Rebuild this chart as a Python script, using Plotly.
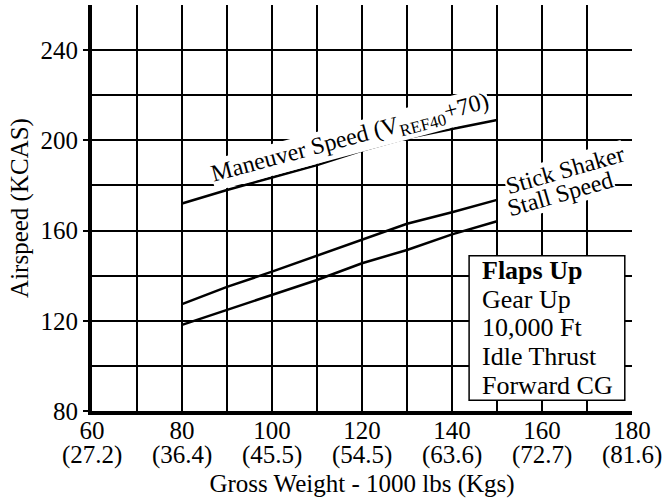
import plotly.graph_objects as go

# gross weight (1000 lbs) and airspeeds (KCAS)
weight = [80, 90, 100, 110, 120, 130, 140, 150]
maneuver = [172, 178, 183.5, 189, 195.5, 201, 205, 209]
shaker = [127.4, 135, 141.8, 148.9, 156, 163, 168.1, 173.6]
stall = [118.2, 124.9, 131.4, 138.1, 145.5, 151.4, 158.3, 164.1]

x_ticks = [60, 80, 100, 120, 140, 160, 180]
x_kgs = ["(27.2)", "(36.4)", "(45.5)", "(54.5)", "(63.6)", "(72.7)", "(81.6)"]
y_ticks = [80, 120, 160, 200, 240]

box_lines = ["<b>Flaps Up</b>", "Gear Up", "10,000 Ft", "Idle Thrust", "Forward CG"]

FONT = "Liberation Serif"

fig = go.Figure()
for ys in (maneuver, shaker, stall):
    fig.add_trace(go.Scatter(x=weight, y=ys, mode="lines",
                             line=dict(color="black", width=2.5),
                             showlegend=False, hoverinfo="skip"))

fig.update_xaxes(range=[60, 180], tickvals=x_ticks, ticktext=[str(v) for v in x_ticks],
                 showgrid=True, gridcolor="black", gridwidth=1.5,
                 minor=dict(dtick=10, showgrid=True, gridcolor="black", gridwidth=1.5),
                 showline=True, linecolor="black", linewidth=4,
                 ticks="", ticklabelstandoff=-6, automargin=False,
                 zeroline=False, tickfont=dict(size=25),
                 title=dict(text="Gross Weight - 1000 lbs (Kgs)", font=dict(size=25), standoff=32))
fig.update_yaxes(range=[80, 260], tickvals=y_ticks,
                 showgrid=True, gridcolor="black", gridwidth=1.5,
                 minor=dict(dtick=20, showgrid=True, gridcolor="black", gridwidth=1.5),
                 showline=True, linecolor="black", linewidth=4,
                 ticks="outside", ticklen=5, tickcolor="black", tickwidth=1.5,
                 automargin=False,
                 zeroline=False, tickfont=dict(size=25),
                 title=dict(text="Airspeed (KCAS)", font=dict(size=25), standoff=6))

# kg row under the weight ticks
for xv, kg in zip(x_ticks, x_kgs):
    fig.add_annotation(x=xv, y=0, xref="x", yref="paper", text=kg, showarrow=False,
                       yanchor="middle", yshift=-44, font=dict(size=25))

# curve labels
fig.add_annotation(x=117.3, y=200.8, text="Maneuver Speed (V<sub>REF40</sub>+70)",
                   showarrow=False, textangle=-15, bgcolor="white", borderpad=0,
                   font=dict(size=24))
fig.add_annotation(x=165.1, y=187, text="Stick Shaker", showarrow=False,
                   textangle=-16, bgcolor="white", borderpad=0, font=dict(size=24))
fig.add_annotation(x=164, y=176, text="Stall Speed", showarrow=False,
                   textangle=-16, bgcolor="white", borderpad=0, font=dict(size=24))

# conditions box
fig.add_shape(type="rect", x0=143.8, x1=178.4, y0=84.8, y1=148.8,
              line=dict(color="black", width=1.5), fillcolor="white", layer="above")
for txt, yv in zip(box_lines, [142.1, 129.6, 117.2, 104.3, 91.4]):
    fig.add_annotation(x=146.2, y=yv, text=txt, showarrow=False, xanchor="left",
                       yanchor="middle", font=dict(size=26))

fig.update_layout(width=665, height=498, margin=dict(l=92, r=33, t=5, b=87),
                  plot_bgcolor="white", paper_bgcolor="white",
                  font=dict(family=FONT, color="black"))

# page body has a default 8px margin, drop it so the chart sits at the corner
fig.write_html("out.html", config={"displayModeBar": False},
               post_script="document.body.style.margin='0';")
